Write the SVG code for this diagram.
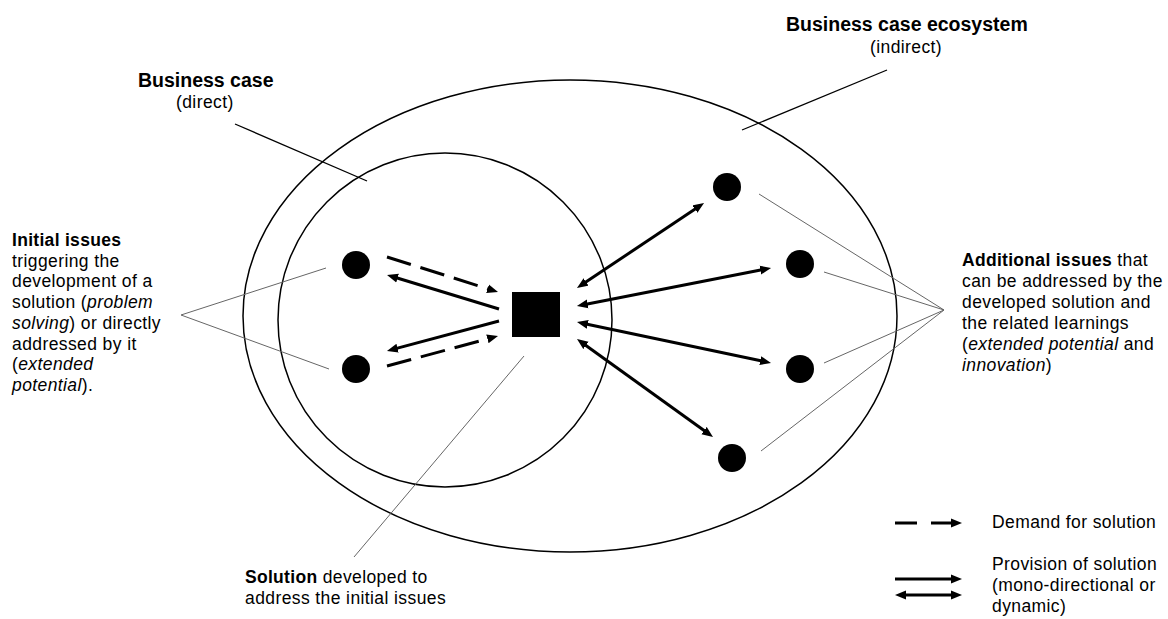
<svg xmlns="http://www.w3.org/2000/svg" width="1168" height="619" viewBox="0 0 1168 619">
<style>
text{font-family:"Liberation Sans",Arial,sans-serif;font-size:17.5px;letter-spacing:0.4px;fill:#000}
.b{font-weight:bold;letter-spacing:0.3px}
.h{font-size:19.5px;font-weight:bold;letter-spacing:0}
.i{font-style:italic}
.ring{fill:none;stroke:#000;stroke-width:1.5}
.lead{fill:none;stroke:#000;stroke-width:1.3}
.thin{fill:none;stroke:#666;stroke-width:1}
.arr{fill:none;stroke:#000;stroke-width:3}
.dash{stroke-dasharray:25 10}
.dot{fill:#000}
</style>
<defs>
<marker id="ah" markerUnits="userSpaceOnUse" markerWidth="12" markerHeight="10" refX="3" refY="4.5" orient="auto-start-reverse" viewBox="0 0 12 9">
<path d="M0,0 L11,4.5 L0,9 z" fill="#000"/>
</marker>
</defs>
<rect width="1168" height="619" fill="#fff"/>
<g id="ecosystem">
<ellipse class="ring" cx="570" cy="316" rx="327" ry="236"/>
</g>
<g id="business-case">
<ellipse class="ring" cx="445" cy="320" rx="167" ry="167"/>
</g>
<g id="solution"><rect x="512" y="292" width="48" height="45" fill="#000"/></g>
<g id="initial-issue-1"><circle class="dot" cx="356" cy="265" r="14"/></g>
<g id="initial-issue-2"><circle class="dot" cx="356" cy="369" r="14"/></g>
<g id="additional-issue-1"><circle class="dot" cx="727" cy="187" r="14"/></g>
<g id="additional-issue-2"><circle class="dot" cx="800" cy="264" r="14"/></g>
<g id="additional-issue-3"><circle class="dot" cx="800" cy="369" r="14"/></g>
<g id="additional-issue-4"><circle class="dot" cx="732" cy="458" r="14"/></g>
<g id="connectors">
<path class="arr dash" d="M387,257 L490.4,289.6" marker-end="url(#ah)"/>
<path class="arr" d="M499,309 L394.7,277.3" marker-end="url(#ah)"/>
<path class="arr" d="M499,321 L394.7,348.9" marker-end="url(#ah)"/>
<path class="arr dash" d="M387,366 L490.3,338.1" marker-end="url(#ah)"/>
<path class="arr" d="M583.6,283.6 L697.4,207.4" marker-start="url(#ah)" marker-end="url(#ah)"/>
<path class="arr" d="M584.8,304.5 L763.2,269.5" marker-start="url(#ah)" marker-end="url(#ah)"/>
<path class="arr" d="M584.8,323.7 L763.2,361.3" marker-start="url(#ah)" marker-end="url(#ah)"/>
<path class="arr" d="M583.5,343.7 L706.5,432.3" marker-start="url(#ah)" marker-end="url(#ah)"/>
</g>
<g id="leaders">
<path class="lead" d="M235,124 L367,181"/>
<path class="lead" d="M887,70 L742,130"/>
<path class="thin" d="M326,268 L181,315 L329,369"/>
<path class="thin" d="M759,194 L944,310 L761,451 M824,272 L944,310 L824,363"/>
<path class="thin" d="M524,356 L354,557"/>
</g>
<g id="label-business-case">
<text class="h" x="138" y="87">Business case</text>
<text x="176" y="108">(direct)</text>
</g>
<g id="label-ecosystem">
<text class="h" x="786" y="31">Business case ecosystem</text>
<text x="870" y="53">(indirect)</text>
</g>
<g id="label-initial">
<text x="12" y="246"><tspan class="b">Initial issues</tspan><tspan x="12" y="266.7">triggering the</tspan><tspan x="12" y="287.4">development of a</tspan><tspan x="12" y="308.1">solution (<tspan class="i">problem</tspan></tspan><tspan x="12" y="328.9"><tspan class="i">solving</tspan>) or directly</tspan><tspan x="12" y="349.6">addressed by it</tspan><tspan x="12" y="370.3">(<tspan class="i">extended</tspan></tspan><tspan x="12" y="391"><tspan class="i">potential</tspan>).</tspan></text>
</g>
<g id="label-additional">
<text x="962" y="266"><tspan class="b">Additional issues</tspan> that<tspan x="962" y="287">can be addressed by the</tspan><tspan x="962" y="308">developed solution and</tspan><tspan x="962" y="329">the related learnings</tspan><tspan x="962" y="350">(<tspan class="i">extended potential</tspan> and</tspan><tspan x="962" y="371"><tspan class="i">innovation</tspan>)</tspan></text>
</g>
<g id="label-solution">
<text x="245" y="583"><tspan class="b">Solution</tspan> developed to<tspan x="245" y="604">address the initial issues</tspan></text>
</g>
<g id="legend">
<path class="arr" style="stroke-dasharray:22 14" d="M895,523 H954" marker-end="url(#ah)"/>
<path class="arr" d="M895,579 H954" marker-end="url(#ah)"/>
<path class="arr" d="M903,595 H954" marker-start="url(#ah)" marker-end="url(#ah)"/>
<text x="992" y="528">Demand for solution</text>
<text x="992" y="570">Provision of solution<tspan x="992" y="591">(mono-directional or</tspan><tspan x="992" y="612">dynamic)</tspan></text>
</g>
</svg>
